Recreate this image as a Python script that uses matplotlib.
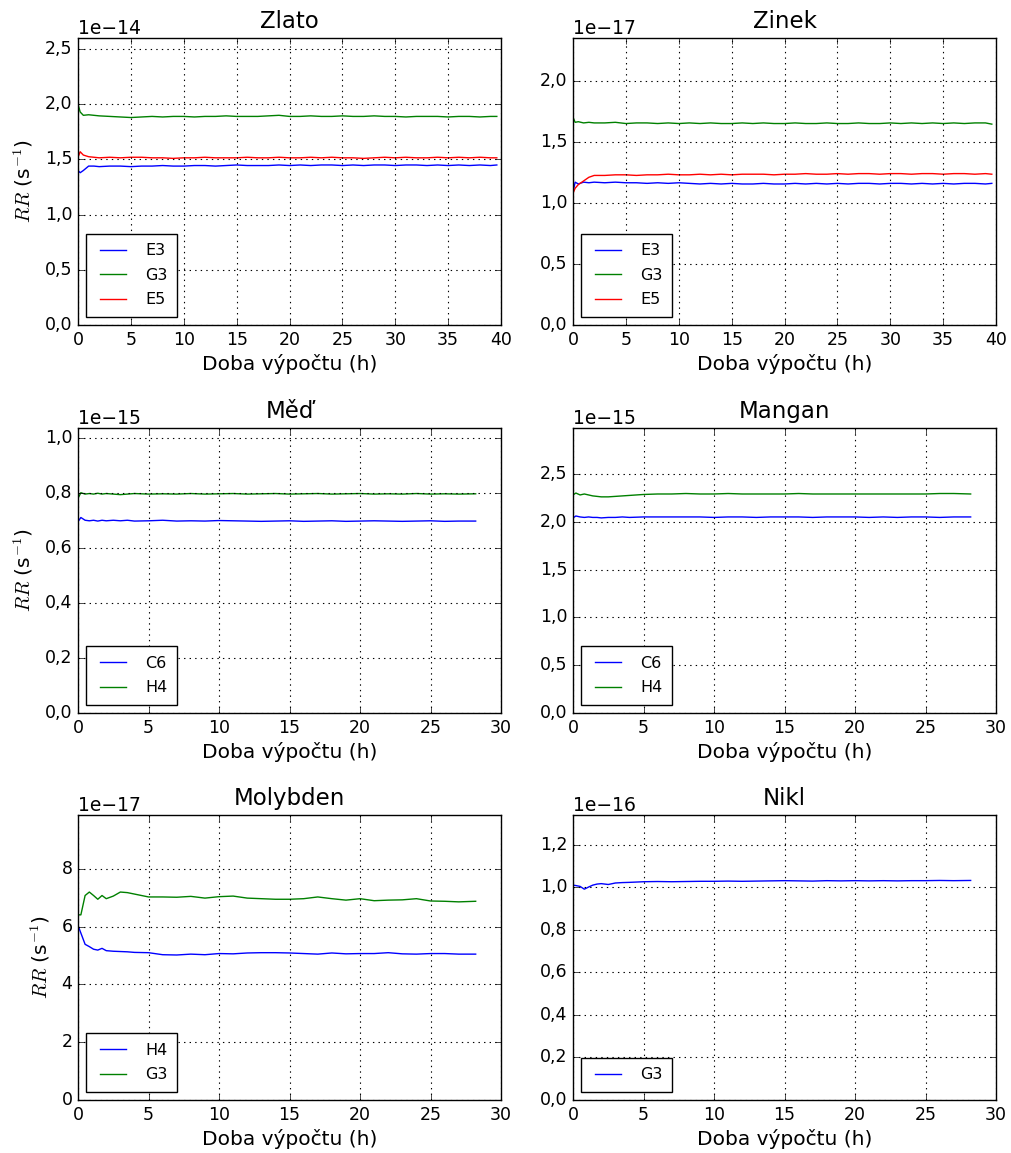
import numpy as np
import matplotlib
matplotlib.use('Agg')
import matplotlib.pyplot as plt
from matplotlib import ticker

plt.style.use('classic')

# time axes (h)
t_top = [0, 0.2, 0.5, 1.0, 1.5, 2, 3, 4, 5, 6,
         7, 8, 9, 10, 11, 12, 13, 14, 15, 16,
         17, 18, 19, 20, 21, 22, 23, 24, 25, 26,
         27, 28, 29, 30, 31, 32, 33, 34, 35, 36,
         37, 38, 39, 39.6]
t_low = [0, 0.2, 0.5, 0.8, 1.1, 1.4, 1.7, 2, 2.5, 3,
         3.5, 4, 5, 6, 7, 8, 9, 10, 11, 12,
         13, 14, 15, 16, 17, 18, 19, 20, 21, 22,
         23, 24, 25, 26, 27, 28.2]

# Zlato (x 1e-14)
zlato_e3 = [1.40, 1.38, 1.40, 1.44, 1.44, 1.435, 1.44, 1.44, 1.435, 1.44,
            1.44, 1.445, 1.44, 1.44, 1.445, 1.445, 1.44, 1.445, 1.45, 1.445,
            1.445, 1.445, 1.45, 1.445, 1.45, 1.445, 1.45, 1.45, 1.445, 1.45,
            1.445, 1.45, 1.45, 1.445, 1.45, 1.45, 1.445, 1.45, 1.445, 1.45,
            1.445, 1.45, 1.445, 1.45]
zlato_g3 = [2.00, 1.93, 1.90, 1.905, 1.90, 1.895, 1.89, 1.885, 1.88, 1.885,
            1.89, 1.885, 1.89, 1.89, 1.885, 1.89, 1.89, 1.895, 1.89, 1.89,
            1.89, 1.895, 1.90, 1.89, 1.89, 1.895, 1.89, 1.89, 1.895, 1.89,
            1.89, 1.895, 1.89, 1.89, 1.885, 1.89, 1.89, 1.89, 1.885, 1.89,
            1.89, 1.885, 1.89, 1.89]
zlato_e5 = [1.52, 1.57, 1.54, 1.525, 1.52, 1.515, 1.52, 1.515, 1.52, 1.52,
            1.515, 1.515, 1.51, 1.515, 1.515, 1.52, 1.515, 1.515, 1.515, 1.52,
            1.515, 1.515, 1.52, 1.515, 1.515, 1.52, 1.515, 1.52, 1.515, 1.515,
            1.51, 1.515, 1.52, 1.515, 1.52, 1.515, 1.515, 1.52, 1.515, 1.52,
            1.515, 1.52, 1.515, 1.515]

# Zinek (x 1e-17)
zinek_e3 = [1.09, 1.17, 1.155, 1.17, 1.165, 1.17, 1.165, 1.17, 1.165, 1.165,
            1.16, 1.165, 1.16, 1.165, 1.16, 1.155, 1.16, 1.155, 1.16, 1.155,
            1.155, 1.16, 1.155, 1.155, 1.16, 1.155, 1.16, 1.155, 1.16, 1.155,
            1.16, 1.16, 1.155, 1.16, 1.16, 1.155, 1.16, 1.155, 1.16, 1.155,
            1.16, 1.16, 1.155, 1.16]
zinek_g3 = [1.70, 1.66, 1.665, 1.655, 1.66, 1.655, 1.655, 1.66, 1.65, 1.655,
            1.655, 1.65, 1.655, 1.65, 1.655, 1.65, 1.655, 1.65, 1.65, 1.655,
            1.65, 1.655, 1.65, 1.65, 1.655, 1.65, 1.65, 1.655, 1.65, 1.65,
            1.655, 1.65, 1.65, 1.655, 1.65, 1.655, 1.65, 1.655, 1.65, 1.655,
            1.65, 1.655, 1.655, 1.645]
zinek_e5 = [1.08, 1.12, 1.15, 1.18, 1.21, 1.225, 1.225, 1.23, 1.23, 1.225,
            1.23, 1.23, 1.235, 1.23, 1.23, 1.235, 1.23, 1.235, 1.23, 1.235,
            1.235, 1.235, 1.23, 1.235, 1.235, 1.24, 1.235, 1.235, 1.24, 1.235,
            1.24, 1.24, 1.235, 1.24, 1.24, 1.235, 1.24, 1.24, 1.235, 1.24,
            1.24, 1.235, 1.24, 1.235]

# Med (x 1e-15)
med_c6 = [0.695, 0.71, 0.70, 0.698, 0.70, 0.697, 0.70, 0.698, 0.70, 0.698,
          0.70, 0.697, 0.698, 0.70, 0.697, 0.698, 0.697, 0.699, 0.698, 0.697,
          0.696, 0.697, 0.698, 0.696, 0.697, 0.698, 0.696, 0.697, 0.698, 0.697,
          0.696, 0.697, 0.698, 0.696, 0.697, 0.697]
med_h4 = [0.78, 0.80, 0.795, 0.797, 0.795, 0.798, 0.795, 0.797, 0.795, 0.793,
          0.795, 0.797, 0.795, 0.796, 0.795, 0.797, 0.795, 0.796, 0.797, 0.795,
          0.796, 0.797, 0.795, 0.796, 0.797, 0.795, 0.796, 0.797, 0.795, 0.796,
          0.795, 0.797, 0.795, 0.796, 0.795, 0.796]

# Mangan (x 1e-15)
mangan_c6 = [2.04, 2.06, 2.05, 2.045, 2.05, 2.045, 2.045, 2.04, 2.045, 2.045,
             2.05, 2.045, 2.05, 2.05, 2.05, 2.05, 2.05, 2.045, 2.05, 2.05,
             2.045, 2.05, 2.05, 2.05, 2.045, 2.05, 2.05, 2.05, 2.045, 2.05,
             2.045, 2.05, 2.05, 2.045, 2.05, 2.05]
mangan_h4 = [2.28, 2.30, 2.28, 2.29, 2.28, 2.27, 2.265, 2.26, 2.26, 2.265,
             2.27, 2.275, 2.285, 2.29, 2.29, 2.295, 2.29, 2.29, 2.295, 2.29,
             2.29, 2.29, 2.29, 2.295, 2.29, 2.29, 2.29, 2.29, 2.29, 2.29,
             2.29, 2.29, 2.29, 2.295, 2.295, 2.29]

# Molybden (x 1e-17)
moly_h4 = [6.04, 5.78, 5.39, 5.31, 5.22, 5.19, 5.25, 5.17, 5.15, 5.14,
           5.13, 5.11, 5.10, 5.03, 5.02, 5.05, 5.03, 5.07, 5.06, 5.09,
           5.10, 5.10, 5.09, 5.07, 5.05, 5.09, 5.06, 5.07, 5.07, 5.10,
           5.06, 5.05, 5.07, 5.07, 5.05, 5.05]
moly_g3 = [6.41, 6.41, 7.08, 7.20, 7.08, 6.95, 7.08, 6.97, 7.06, 7.20,
           7.18, 7.13, 7.03, 7.03, 7.02, 7.05, 6.99, 7.04, 7.06, 6.99,
           6.97, 6.95, 6.95, 6.97, 7.03, 6.97, 6.92, 6.97, 6.90, 6.92,
           6.93, 6.97, 6.89, 6.88, 6.86, 6.88]

# Nikl (x 1e-16)
nikl_g3 = [1.010, 1.008, 1.004, 0.991, 1.001, 1.010, 1.015, 1.017, 1.013, 1.020,
           1.022, 1.023, 1.026, 1.027, 1.026, 1.027, 1.028, 1.028, 1.029, 1.028,
           1.029, 1.030, 1.031, 1.030, 1.029, 1.031, 1.030, 1.031, 1.030, 1.031,
           1.030, 1.031, 1.031, 1.032, 1.031, 1.032]


class CommaFormatter(ticker.ScalarFormatter):
    def __call__(self, x, pos=None):
        return super().__call__(x, pos).replace('.', ',')


fig = plt.figure(figsize=(10.11, 11.53), dpi=100, facecolor='white')

left_x, right_x, w = 0.0772, 0.5668, 0.4184
rows = [(0.7181, 0.2489), (0.3816, 0.2472), (0.0460, 0.2472)]

panels = [
    # title, pos, t, series, labels, scale, ylim top, ystep, xmax
    ("Zlato", (left_x, rows[0]), t_top, [zlato_e3, zlato_g3, zlato_e5],
     ["E3", "G3", "E5"], 1e-14, 2.6, 0.5, 40),
    ("Zinek", (right_x, rows[0]), t_top, [zinek_e3, zinek_g3, zinek_e5],
     ["E3", "G3", "E5"], 1e-17, 2.35, 0.5, 40),
    ("Měď", (left_x, rows[1]), t_low, [med_c6, med_h4],
     ["C6", "H4"], 1e-15, 1.035, 0.2, 30),
    ("Mangan", (right_x, rows[1]), t_low, [mangan_c6, mangan_h4],
     ["C6", "H4"], 1e-15, 2.98, 0.5, 30),
    ("Molybden", (left_x, rows[2]), t_low, [moly_h4, moly_g3],
     ["H4", "G3"], 1e-17, 9.87, 2, 30),
    ("Nikl", (right_x, rows[2]), t_low, [nikl_g3],
     ["G3"], 1e-16, 1.34, 0.2, 30),
]

colors = ['b', 'g', 'r']

for i, (title, (x0, (y0, h)), t, series, labels, scale, ytop, ystep, xmax) in enumerate(panels):
    ax = fig.add_axes([x0, y0, w, h])
    for s, lab, c in zip(series, labels, colors):
        ax.plot(t, np.array(s) * scale, color=c, lw=1.0, label=lab)
    ax.set_xlim(0, xmax)
    ax.set_ylim(0, ytop * scale)
    ax.xaxis.set_major_locator(ticker.MultipleLocator(5))
    ax.yaxis.set_major_locator(ticker.MultipleLocator(ystep * scale))
    ax.yaxis.set_major_formatter(CommaFormatter())
    ax.grid(True, color='black', linestyle=':', linewidth=0.8)
    ax.tick_params(labelsize=12.5)
    ax.yaxis.get_offset_text().set_fontsize(13.5)
    ax.set_title(title, fontsize=16.5, pad=7)
    ax.set_xlabel("Doba výpočtu (h)", fontsize=14.5, labelpad=4)
    if i % 2 == 0:
        ax.set_ylabel("$RR$ (s$^{-1}$)", fontsize=14.5, labelpad=7)
    ax.legend(loc='lower left', fontsize=11.5, frameon=True, fancybox=False,
              edgecolor='black', handlelength=2.2, handletextpad=0.9,
              borderpad=0.6, labelspacing=0.6)

fig.savefig("out.png", dpi=100, facecolor='white')
